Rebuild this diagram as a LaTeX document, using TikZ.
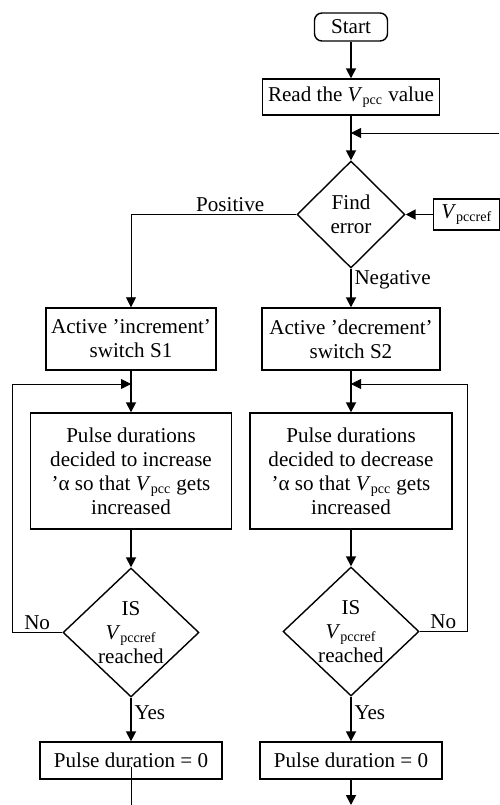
\documentclass[tikz,border=0pt]{standalone}
\usepackage{fontspec}
\setmainfont{Liberation Serif}
\usetikzlibrary{positioning,arrows.meta,shapes.geometric}
\newcommand{\Vpcc}{\textit{V}\textsubscript{pcc}}
\newcommand{\Vref}{\textit{V}\textsubscript{pccref}}
\tikzset{
    base/.style={font=\fontsize{12}{13.7}\selectfont, align=center},
    terminal/.style={base, rectangle, rounded corners=1.5mm, draw, line width=0.8pt,
                     minimum width=1.46cm, minimum height=0.56cm, inner sep=0pt},
    process/.style={base, rectangle, draw, line width=0.8pt, inner sep=0pt},
    decision/.style={base, diamond, draw, line width=0.8pt, inner sep=0pt},
    flow/.style={-{Triangle[length=2mm,width=2mm]}, line width=1pt},
    thinflow/.style={-{Triangle[length=2mm,width=2mm]}, line width=0.45pt},
    thin line/.style={line width=0.45pt},
    label/.style={base, inner sep=1.5pt}
}
\begin{document}
\begin{tikzpicture}
  \useasboundingbox (0,0) rectangle (9.98,-16.1);
  % Main column: Start -> Read -> Find error
  \node[terminal] (start) at (7.02,-0.54) {Start};
  \node[process, minimum width=3.54cm, minimum height=0.72cm] (read) at (7.02,-1.94) {Read the \Vpcc{} value};
  \coordinate (fbJoin) at (7.02,-2.66);
  \coordinate (fbIn) at (9.98,-2.66);
  \node[decision, minimum width=2.16cm, minimum height=2.14cm] (find) at (7.02,-4.29) {Find\\error};
  \node[process, minimum width=1.32cm, minimum height=0.62cm, anchor=west] (vref) at (8.66,-4.29) {\Vref};

  % Branches
  \node[process, minimum width=3.40cm, minimum height=1.24cm] (actL) at (2.62,-6.78) {Active 'increment'\\switch S1};
  \node[process, minimum width=3.56cm, minimum height=1.24cm] (actR) at (7.02,-6.78) {Active 'decrement'\\switch S2};
  \coordinate (joinL) at (2.62,-7.68);
  \coordinate (joinR) at (7.02,-7.68);
  \coordinate (loopL) at (0.24,-7.68);
  \coordinate (loopR) at (9.34,-7.68);
  \node[process, minimum width=4.02cm, minimum height=2.32cm] (pulL) at (2.62,-9.42)
    {Pulse durations\\decided to increase\\'α so that \Vpcc{} gets\\increased};
  \node[process, minimum width=4.04cm, minimum height=2.32cm] (pulR) at (7.02,-9.42)
    {Pulse durations\\decided to decrease\\'α so that \Vpcc{} gets\\increased};
  \node[decision, minimum width=2.72cm, minimum height=2.58cm] (tstL) at (2.62,-12.65) {IS\\\Vref\\reached};
  \node[decision, minimum width=2.72cm, minimum height=2.58cm] (tstR) at (7.02,-12.63) {IS\\\Vref\\reached};
  \node[process, minimum width=3.64cm, minimum height=0.74cm] (zeroL) at (2.62,-15.21) {Pulse duration = 0};
  \node[process, minimum width=3.64cm, minimum height=0.74cm] (zeroR) at (7.02,-15.21) {Pulse duration = 0};
  \coordinate (endL) at (2.62,-16.1);
  \coordinate (endR) at (7.02,-16.1);

  % Arrows
  \draw[flow] (start) -- (read);
  \draw[flow] (read) -- (find);
  \draw[thinflow] (fbIn) -- (fbJoin);
  \draw[flow] (vref) -- (find);
  \draw[thinflow] (find.west) -| node[label, above, pos=0.2] {Positive} (actL.north);
  \draw[flow] (find.south) -- node[label, right, pos=0.3] {Negative} (actR.north);
  \draw[flow] (actL) -- (pulL);
  \draw[flow] (actR) -- (pulR);
  \draw[flow] (pulL) -- (tstL);
  \draw[flow] (pulR) -- (tstR);
  \draw[thin line] (tstL.west) -| node[label, above, pos=0.25] {No} (loopL);
  \draw[thinflow] (loopL) -- (joinL);
  \draw[thin line] (tstR.east) -| node[label, above, pos=0.25] {No} (loopR);
  \draw[thinflow] (loopR) -- (joinR);
  \draw[flow] (tstL.south) -- node[label, right, pos=0.35] {Yes} (zeroL);
  \draw[flow] (tstR.south) -- node[label, right, pos=0.35] {Yes} (zeroR);
  \draw[thin line] ([yshift=-0.13cm]zeroL.center) -- (endL);
  \draw[flow] (zeroR) -- (endR);
\end{tikzpicture}
\end{document}
